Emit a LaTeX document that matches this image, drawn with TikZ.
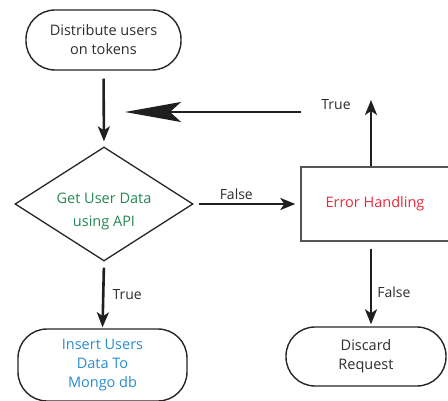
\documentclass[tikz,border=0pt]{standalone}
\usepackage{fontspec}
\setmainfont{Open Sans}
\usetikzlibrary{shapes.geometric,arrows.meta}
\definecolor{txt}{RGB}{45,45,45}
\definecolor{greentxt}{RGB}{35,135,85}
\definecolor{bluetxt}{RGB}{40,140,210}
\definecolor{redtxt}{RGB}{237,40,60}
\definecolor{boxgray}{RGB}{85,85,85}
\tikzset{
  terminal/.style={draw=black!85, line width=1.4pt, rounded corners=29pt, align=center, text=txt,
    font=\fontsize{14.5}{19}\selectfont, inner sep=0pt},
  decision/.style={draw=black!85, line width=1.3pt, diamond, align=center, inner sep=0pt,
    font=\fontsize{14.5}{23}\selectfont},
  procbox/.style={draw=boxgray, line width=1.4pt, rectangle, align=center, inner sep=0pt,
    font=\fontsize{14.5}{19}\selectfont},
  flow/.style={line width=2.6pt, draw=black!88, -{Stealth[length=15pt,width=12pt,inset=4pt]}},
  bigflow/.style={line width=2.6pt, draw=black!88, -{Stealth[length=56pt,width=20pt,inset=11pt]}},
  lbl/.style={text=txt, font=\fontsize{14}{15}\selectfont, inner sep=0pt},
}
\begin{document}
\begin{tikzpicture}[x=1pt,y=-1pt]
\useasboundingbox (0,0) rectangle (448,401);
\node[terminal, minimum width=155pt, minimum height=60pt] (dist) at (103.5,40) {Distribute users\\on tokens};
\node[decision, minimum width=178pt, minimum height=114pt, text=greentxt] (api) at (104,204)
  {\makebox[0pt]{\smash{\raisebox{-10.5pt}{\begin{tabular}{@{}c@{}}Get User Data\\using API\end{tabular}}}}};
\node[terminal, minimum width=169pt, minimum height=72pt, text=bluetxt] (ins) at (102.5,365) {Insert Users\\Data To\\Mongo db};
\node[procbox, minimum width=148pt, minimum height=74pt, text=redtxt] (err) at (375,204) {Error Handling};
\node[terminal, minimum width=160pt, minimum height=59pt] (disc) at (366,356.5) {Discard\\Request};
\coordinate (up) at (371,100);
\coordinate (loopstart) at (301,112);
\coordinate (looptip) at (125,112);
\coordinate (downx) at (371,0);
\draw[flow, shorten <=8pt, shorten >=5pt] (dist.south) -- (api.north);
\draw[flow, shorten <=6pt, shorten >=1pt] (api.south) -- node[lbl, right=8pt] {True} (ins.north);
\draw[flow, shorten <=5pt, shorten >=5pt] (api.east) -- node[lbl, above=3pt, pos=0.4] {False} (err.west);
\draw[flow] (err.north west -| up) -- (up);
\node[lbl] (truelbl) at (336,105) {True};
\draw[bigflow] (loopstart) -- (looptip);
\draw[flow, shorten <=7pt, shorten >=2pt] (err.south west -| downx) -- node[lbl, right=5pt, pos=0.6] {False} (disc.north west -| downx);
\end{tikzpicture}
\end{document}
